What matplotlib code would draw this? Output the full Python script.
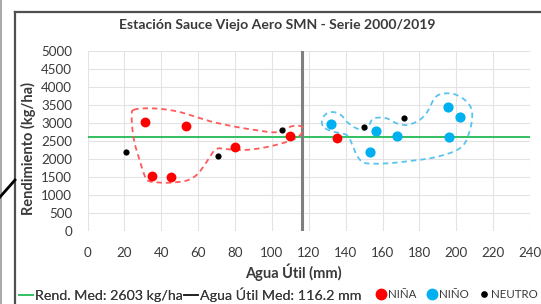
import numpy as np
import matplotlib
matplotlib.use("Agg")
import matplotlib.pyplot as plt
from matplotlib.lines import Line2D

plt.rcParams['font.family'] = ['Lato', 'DejaVu Sans']

# ---- data ----
nina_x = [31.2, 35.2, 45.1, 53.4, 80.0, 109.9, 135.5]
nina_y = [3028, 1528, 1500, 2908, 2333, 2639, 2583]
nino_x = [132.0, 153.3, 156.5, 167.8, 195.4, 202.1, 195.8]
nino_y = [2964, 2178, 2769, 2631, 3428, 3167, 2611]
neutro_x = [20.7, 70.6, 105.7, 150.0, 171.9]
neutro_y = [2178, 2083, 2797, 2889, 3122]
rend_med = 2603
agua_med = 116.2
x_ticks = list(range(0, 241, 20))
y_ticks = list(range(0, 5001, 500))

# hand-drawn grouping outlines (data coordinates)
red_blob_x = [24.9, 31.2, 40.2, 49.3, 58.3, 67.4, 80.0, 90.9, 101.7, 107.2, 112.6, 116.2,
              116.6, 114.4, 110.8, 105.4, 98.1, 90.9, 83.7, 74.6, 71.0, 68.3, 64.7, 60.1,
              54.7, 47.5, 40.2, 33.0, 31.2, 28.5, 25.8, 24.3, 24.0]
red_blob_y = [3353, 3400, 3381, 3306, 3167, 3028, 2889, 2797, 2733, 2843, 2917, 2889,
              2750, 2611, 2519, 2425, 2333, 2269, 2242, 2269, 2288, 2196, 1917, 1593,
              1408, 1343, 1333, 1381, 1500, 1917, 2381, 2843, 3214]
blue_blob_x = [128.9, 133.4, 140.6, 143.3, 145.1, 147.9, 151.5, 162.3, 175.0, 187.6, 198.5,
               203.9, 206.6, 208.4, 208.4, 205.7, 200.3, 194.9, 190.3, 187.6, 184.9, 182.2,
               178.6, 173.2, 167.7, 162.3, 156.9, 154.2, 152.4, 149.7, 145.1, 140.6, 137.9,
               134.3, 130.7, 128.0, 127.1]
blue_blob_y = [2844, 2750, 2657, 2426, 2194, 1963, 1870, 1870, 1936, 2029, 2194,
               2380, 2658, 3028, 3352, 3584, 3769, 3816, 3769, 3630, 3352, 3167,
               3028, 2935, 2982, 3121, 3139, 3075, 2890, 2797, 2862, 3028, 3195,
               3288, 3279, 3167, 2982]


def closed_spline(xs, ys, n=16):
    P = np.column_stack([xs, ys]).astype(float)
    N = len(P)
    out = []
    t = np.linspace(0, 1, n, endpoint=False)[:, None]
    for i in range(N):
        p0, p1, p2, p3 = P[i - 1], P[i], P[(i + 1) % N], P[(i + 2) % N]
        seg = 0.5 * ((2 * p1) + (-p0 + p2) * t + (2 * p0 - 5 * p1 + 4 * p2 - p3) * t ** 2
                     + (-p0 + 3 * p1 - 3 * p2 + p3) * t ** 3)
        out.append(seg)
    out = np.vstack(out)
    out = np.vstack([out, out[:1]])
    return out[:, 0], out[:, 1]


W, H = 541, 304
TXT = '#3A3A3A'
fig = plt.figure(figsize=(W / 100, H / 100), dpi=100)
ax = fig.add_axes([87.5 / W, 1 - 230.7 / H, (530 - 87.5) / W, (230.7 - 50.7) / H])

ax.set_xlim(0, 240)
ax.set_ylim(0, 5000)
ax.set_xticks(x_ticks)
ax.set_yticks(y_ticks)
ax.grid(True, color='#E3E3E3', lw=0.8)
ax.set_axisbelow(True)
for s in ax.spines.values():
    s.set_visible(False)
ax.tick_params(length=0, labelsize=9.6, colors=TXT)
ax.tick_params(axis='y', pad=11)
ax.tick_params(axis='x', pad=11.5)

ax.axhline(rend_med, color='#33C060', lw=1.4, zorder=2)
ax.axvline(agua_med, color='#7F7F7F', lw=2.2, zorder=2)

rx, ry = closed_spline(red_blob_x, red_blob_y)
ax.plot(rx, ry, color='#FF5A5A', lw=1.3, ls=(0, (3, 2.2)), zorder=3)
bx, by = closed_spline(blue_blob_x, blue_blob_y)
ax.plot(bx, by, color='#5BC3EE', lw=1.3, ls=(0, (3, 2.2)), zorder=3)

ax.scatter(nina_x, nina_y, s=50, color='#FF0000', zorder=4, linewidths=0)
ax.scatter(nino_x, nino_y, s=54, color='#00B0F0', zorder=4, linewidths=0)
ax.scatter(neutro_x, neutro_y, s=20, color='#000000', zorder=5, linewidths=0)

fig.text(277.5 / W, 1 - 25 / H, 'Estación Sauce Viejo Aero SMN - Serie 2000/2019',
         ha='center', va='center', fontsize=10.1, fontweight='bold', color=TXT)
fig.text(28 / W, 1 - 148 / H, 'Rendimiento (kg/ha)', rotation=90, ha='center', va='center',
         fontsize=10.5, fontweight='bold', color=TXT)
fig.text(293 / W, 1 - 272 / H, 'Agua Útil (mm)', ha='center', va='center',
         fontsize=10.5, fontweight='bold', color=TXT)

# legend: lines part
line_handles = [Line2D([], [], color='#33C060', lw=1.2), Line2D([], [], color='#202020', lw=1.2)]
line_labels = [f'Rend. Med: {rend_med} kg/ha', f'Agua Útil Med: {agua_med} mm']
leg1 = fig.legend(line_handles, line_labels, loc='center left', bbox_to_anchor=(19 / W, 1 - 295 / H),
                  ncol=2, frameon=False, handlelength=0.95, handletextpad=0.15,
                  columnspacing=0.1, borderpad=0, borderaxespad=0, fontsize=10.3,
                  labelcolor=TXT)
fig.add_artist(leg1)
# legend: markers part
mk_handles = [
    Line2D([], [], ls='none', marker='o', color='#FF0000', markersize=7.5),
    Line2D([], [], ls='none', marker='o', color='#00B0F0', markersize=7.5),
    Line2D([], [], ls='none', marker='o', color='#000000', markersize=3.8),
]
mk_labels = ['NIÑA', 'NIÑO', 'NEUTRO']
leg2 = fig.legend(mk_handles, mk_labels, loc='center left', bbox_to_anchor=(376 / W, 1 - 295 / H),
                  ncol=3, frameon=False, handlelength=0.9, handletextpad=0.15,
                  columnspacing=0.9, borderpad=0, borderaxespad=0, fontsize=8.3,
                  labelcolor=TXT)

# screenshot frame
fig.add_artist(Line2D([15 / W, 15 / W], [0, 1 - 12 / H], color='#505050', lw=1.6))
fig.add_artist(Line2D([15 / W, 1], [1 - 12 / H, 1 - 12 / H], color='#505050', lw=1.6))
fig.add_artist(Line2D([0.8 / W, 0.8 / W], [0, 1], color='#9A9A9A', lw=1.2))
fig.add_artist(Line2D([0, 15 / W], [1 - 197 / H, 1 - 180 / H], color='#000000', lw=2))

fig.savefig('out.png', dpi=100)
